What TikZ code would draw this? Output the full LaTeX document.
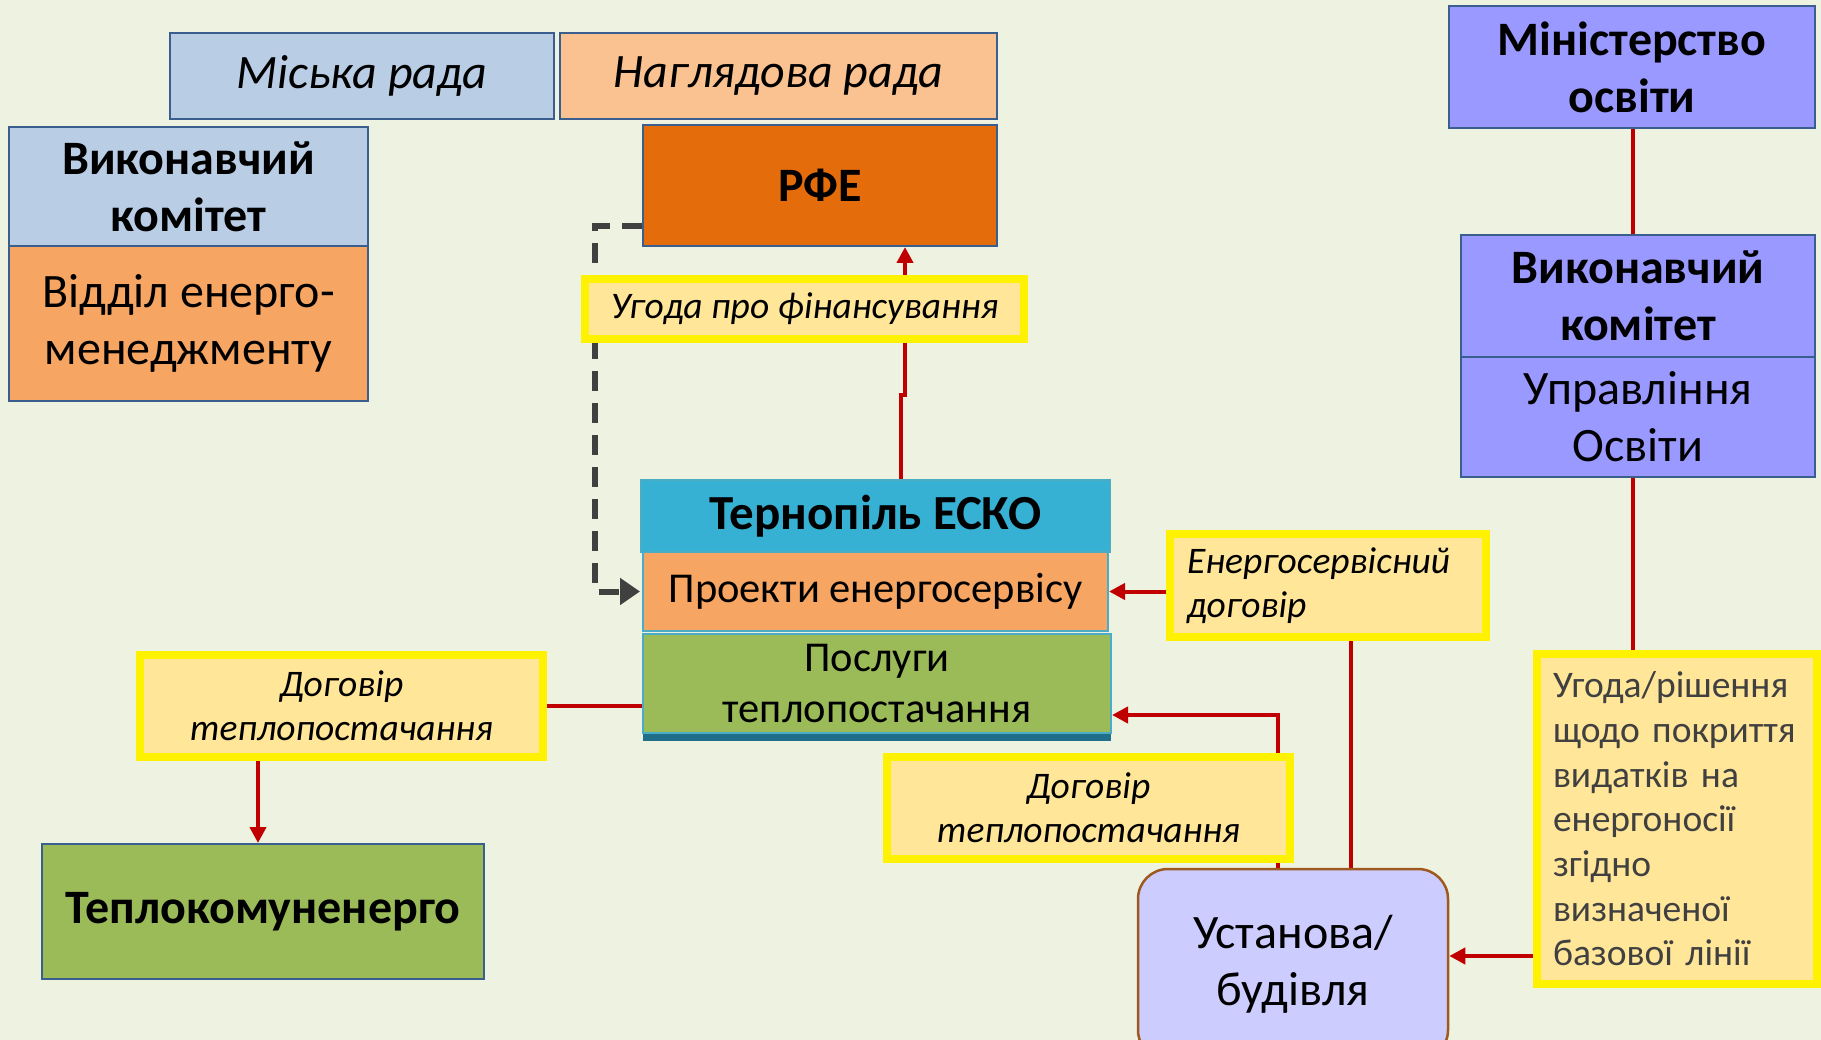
\documentclass[tikz,border=0pt]{standalone}
\usepackage{fontspec}
\setmainfont{Carlito}
\usetikzlibrary{arrows.meta,shadows}
\definecolor{bgc}{HTML}{EEF2E1}
\definecolor{paleblue}{HTML}{B9CDE5}
\definecolor{peach}{HTML}{FAC191}
\definecolor{softorange}{HTML}{F6A562}
\definecolor{rfeorange}{HTML}{E46C0A}
\definecolor{dealfill}{HTML}{FFE699}
\definecolor{eskoblue}{HTML}{36B1D4}
\definecolor{eskoedge}{HTML}{4BACC6}
\definecolor{eskoshd}{HTML}{1F6F8B}
\definecolor{leaf}{HTML}{9BBB59}
\definecolor{violet}{HTML}{9999FF}
\definecolor{ustfill}{HTML}{CCCCFF}
\definecolor{ustedge}{HTML}{9E5A1E}
\definecolor{boxedge}{HTML}{3A5F8E}
\definecolor{linkred}{HTML}{C00000}
\definecolor{dashgray}{HTML}{404040}
\pgfdeclarelayer{back}
\pgfsetlayers{back,main}
\tikzset{
  box/.style={draw=boxedge, line width=2pt, inner sep=0pt, align=center},
  deal/.style={draw=yellow, line width=8pt, fill=dealfill, inner sep=0pt},
  eskopart/.style={draw=eskoedge, line width=2pt, inner sep=0pt, align=center},
  big/.style={font=\fontsize{48}{57}\selectfont},
  bigb/.style={font=\fontsize{48}{57}\selectfont\bfseries},
  itl/.style={font=\fontsize{48}{57}\selectfont\itshape},
  sml/.style={font=\fontsize{37.5}{44}\selectfont\itshape},
  link/.style={draw=linkred, line width=4pt},
  linkto/.style={link, -{Triangle[length=16pt,width=16pt]}},
  dashlink/.style={draw=dashgray, line width=6pt, dash pattern=on 20pt off 12pt,
    -{Triangle[length=20pt,width=26pt]}}
}
\begin{document}
\begin{tikzpicture}[x=1pt,y=-1pt]
\useasboundingbox (0,0) rectangle (1821,1040);
% city side
\node[box, fill=paleblue, minimum width=384, minimum height=86, itl] (misk) at (362,76) {Міська рада};
\node[box, fill=peach, minimum width=437, minimum height=86, itl] (nahl) at (778.5,76) {Наглядова рада};
\node[box, fill=paleblue, minimum width=359, minimum height=119, bigb] (vykl) at (188.5,186.5) {Виконавчий\\комітет};
\node[box, fill=softorange, minimum width=359, minimum height=155, big] (viddil) at (188.5,323.5) {Відділ енерго-\\менеджменту};
\node[box, fill=rfeorange, minimum width=354, minimum height=121, bigb] (rfe) at (820,185.5) {РФЕ};
\node[deal, minimum width=439, minimum height=60, sml] (ugfin) at (804.5,309) {Угода про фінансування};
% ESCO block
\node[eskopart, fill=eskoblue, minimum width=469, minimum height=72, font=\fontsize{49}{57}\selectfont\bfseries] (esko) at (875.5,516) {Тернопіль ЕСКО};
\node[eskopart, fill=leaf, minimum width=468, minimum height=99, font=\fontsize{42.5}{51}\selectfont,
  drop shadow={shadow xshift=0pt, shadow yshift=-8pt, fill=eskoshd, opacity=1}] (posluhy) at (877,683.5) {Послуги\\теплопостачання};
\node[eskopart, fill=softorange, minimum width=465, minimum height=79, font=\fontsize{42.5}{51}\selectfont] (proekty) at (875.5,591.5) {Проекти енергосервісу};
\node[deal, minimum width=316, minimum height=103, text width=282, align=left, sml] (enserv) at (1328,585.5) {Енергосервісний\\договір};
\node[deal, minimum width=403, minimum height=102, align=center, sml] (dogl) at (341.5,706) {Договір\\теплопостачання};
\node[box, fill=leaf, minimum width=442, minimum height=135, bigb] (teplo) at (263,911.5) {Теплокомуненерго};
\node[deal, minimum width=403, minimum height=102, align=center, sml] (dogm) at (1088.5,808) {Договір\\теплопостачання};
\node[draw=ustedge, line width=2.5pt, fill=ustfill, rounded corners=30pt, minimum width=310, minimum height=191,
  align=center, big] (ustanova) at (1293,964.5) {Установа/\\будівля};
% education side
\node[box, fill=violet, minimum width=366, minimum height=122, bigb] (min) at (1632,67) {Міністерство\\освіти};
\node[box, fill=violet, minimum width=354, minimum height=122, bigb] (vykr) at (1638,296) {Виконавчий\\комітет};
\node[box, fill=violet, minimum width=354, minimum height=120, big] (upr) at (1638,417) {Управління\\Освіти};
\node[deal, minimum width=280, minimum height=330, text width=248, align=left,
  font=\fontsize{37.5}{44.7}\selectfont, text=dashgray] (uhrish) at (1677,819) {Угода/рішення\\щодо покриття\\видатків на\\енергоносії\\згідно\\визначеної\\базової лінії};
% connectors
\coordinate (fin1) at (901,395);
\coordinate (fin2) at (905,395);
\coordinate (dsh) at (595,226);
\coordinate (heat) at (1278,715);
\coordinate (serv) at (1351,700);
\coordinate (down) at (258,800);
\begin{pgfonlayer}{back}
\fill[bgc] (0,0) rectangle (1821,1040);
\draw[linkto] (esko.north -| fin1) -- (fin1) -- (fin2) -- (rfe.south -| fin2);
\draw[dashlink] (rfe.west |- dsh) -- (dsh) |- ([xshift=-2pt]proekty.west);
\draw[linkto] (enserv.west |- proekty.east) -- (proekty.east);
\draw[link] (enserv.south -| serv) -- (ustanova.north -| serv);
\draw[linkto] (ustanova.north -| heat) -- (heat) -- (posluhy.east |- heat);
\draw[link] (dogl.east) -- (posluhy.west |- dogl.east);
\draw[linkto] (dogl.south -| down) -- (teplo.north -| down);
\draw[link] (min.south -| 1633,0) -- (vykr.north -| 1633,0);
\draw[link] (upr.south -| 1633,0) -- (uhrish.north -| 1633,0);
\draw[linkto] (uhrish.west |- 0,956) -- (ustanova.east |- 0,956);
\end{pgfonlayer}
\end{tikzpicture}
\end{document}
